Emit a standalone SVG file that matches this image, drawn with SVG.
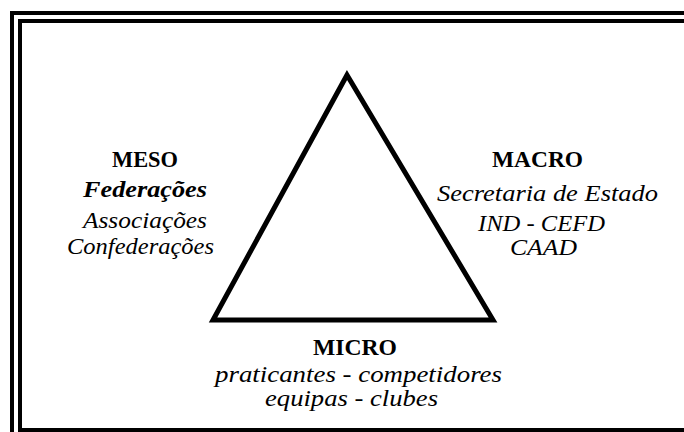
<svg xmlns="http://www.w3.org/2000/svg" width="684" height="432" viewBox="0 0 684 432">
<style>
.hd{font-family:"Liberation Serif","Times New Roman",serif;font-weight:bold;font-size:23px;fill:#000}
.it{font-family:"Liberation Serif","Times New Roman",serif;font-style:italic;font-size:23px;fill:#000}
.bi{font-family:"Liberation Serif","Times New Roman",serif;font-style:italic;font-weight:bold;font-size:23px;fill:#000}
.frame{fill:#000}
</style>
<rect width="684" height="432" fill="#fff"/>
<g id="frame" class="frame">
<rect x="10" y="11" width="674" height="4"/>
<rect x="10" y="11" width="4" height="421"/>
<rect x="18" y="19" width="666" height="4"/>
<rect x="18" y="19" width="4" height="413"/>
<rect x="18" y="428" width="666" height="4"/>
</g>
<g id="triangle">
<polygon points="347,75 213,320 493,320" fill="none" stroke="#000" stroke-width="5"/>
</g>
<g id="meso">
<text class="hd" x="112" y="167" textLength="66" lengthAdjust="spacingAndGlyphs">MESO</text>
<text class="bi" x="83" y="197" textLength="124" lengthAdjust="spacingAndGlyphs">Federações</text>
<text class="it" x="83" y="228" textLength="124" lengthAdjust="spacingAndGlyphs">Associações</text>
<text class="it" x="67" y="254" textLength="147" lengthAdjust="spacingAndGlyphs">Confederações</text>
</g>
<g id="macro">
<text class="hd" x="492" y="167" textLength="91" lengthAdjust="spacingAndGlyphs">MACRO</text>
<text class="it" x="437" y="201" textLength="221" lengthAdjust="spacingAndGlyphs">Secretaria de Estado</text>
<text class="it" x="478" y="231" textLength="127" lengthAdjust="spacingAndGlyphs">IND - CEFD</text>
<text class="it" x="510" y="255" textLength="67" lengthAdjust="spacingAndGlyphs">CAAD</text>
</g>
<g id="micro">
<text class="hd" x="313" y="355" textLength="84" lengthAdjust="spacingAndGlyphs">MICRO</text>
<text class="it" x="215" y="382" textLength="287" lengthAdjust="spacingAndGlyphs">praticantes - competidores</text>
<text class="it" x="265" y="406" textLength="173" lengthAdjust="spacingAndGlyphs">equipas - clubes</text>
</g>
<g id="connectors"></g>
</svg>
